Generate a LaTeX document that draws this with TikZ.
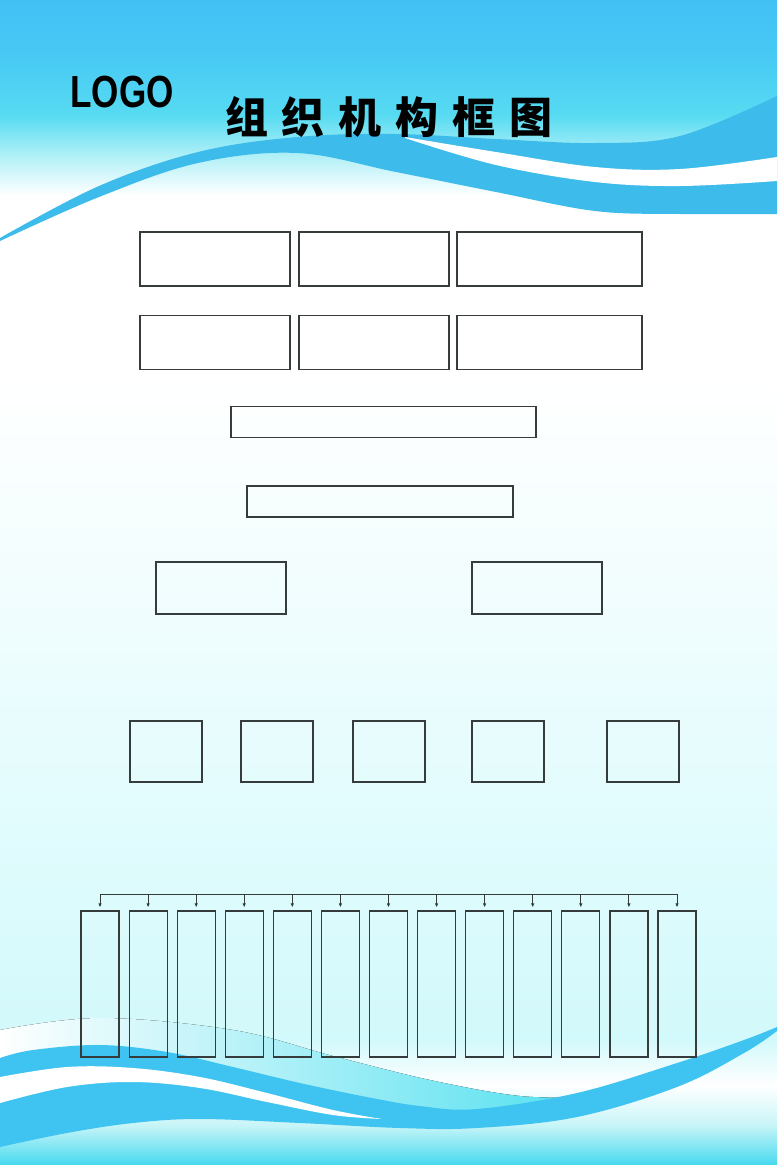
\documentclass[tikz,border=0pt]{standalone}
\usepackage{fontspec}
\usepackage{tikz}
\usepackage{xcolor}
\newfontfamily\cjk{Noto Sans CJK SC}
\newfontfamily\logofont{Liberation Sans}
\usetikzlibrary{arrows.meta}

\definecolor{boxline}{HTML}{363B3C}
\definecolor{skyA}{HTML}{42C1F5}
\definecolor{skyB}{HTML}{47C9F4}
\definecolor{skyC}{HTML}{57DBF2}
\definecolor{skyD}{HTML}{AFF0F7}
\definecolor{paleA}{HTML}{F1FDFE}
\definecolor{paleB}{HTML}{E3FCFD}
\definecolor{paleC}{HTML}{D2F9FB}
\definecolor{paleD}{HTML}{C8F5F8}
\definecolor{seaC}{HTML}{46D9EE}
\definecolor{waveC}{HTML}{52E0EF}
\definecolor{bandtop}{HTML}{3DBBEA}
\definecolor{bandlow}{HTML}{3FC4F1}

\begin{document}
\begin{tikzpicture}[x=1pt,y=-1pt,
  frame/.style={draw=boxline,line width=1.2pt,inner sep=0pt,minimum width=#1},
  wide/.style={frame=150,minimum height=54},
  bar/.style={frame=#1,minimum height=31},
  unit/.style={frame=72,minimum height=61},
  column/.style={frame=38,minimum height=146},
  feed/.style={draw=boxline,line width=0.9pt,-{Latex[length=4pt,width=3.5pt]},shorten >=3pt}]
\useasboundingbox (0,0) rectangle (777,1165);
% background
\fill[top color=skyA,bottom color=skyB] (0,0) rectangle (777,55.5);
\fill[top color=skyB,bottom color=skyC] (0,55) rectangle (777,115.5);
\fill[top color=skyC,bottom color=skyD] (0,115) rectangle (777,155.5);
\fill[top color=skyD,bottom color=white] (0,155) rectangle (777,195.5);
\fill[white] (0,195) rectangle (777,380.5);
\fill[top color=white,bottom color=paleA] (0,380) rectangle (777,600.5);
\fill[top color=paleA,bottom color=paleB] (0,600) rectangle (777,800.5);
\fill[top color=paleB,bottom color=paleC] (0,800) rectangle (777,1040.5);
\fill[top color=paleC,bottom color=white] (0,1040) rectangle (777,1085.5);
\fill[top color=white,bottom color=paleD] (0,1085) rectangle (777,1125.5);
\fill[top color=paleD,bottom color=seaC] (0,1125) rectangle (777,1165);
% top wave
\fill[bandtop] plot[smooth,tension=0.6] coordinates {(0,238) (99,186) (198,152) (297,137) (396,134) (496,139) (595,143) (680,136) (777,96)}
  -- plot[smooth,tension=0.6] coordinates {(777,214) (680,214) (595,211) (496,192) (396,172) (297,153) (198,163) (99,197) (0,241)} -- cycle;
\fill[white] plot[smooth,tension=0.6] coordinates {(405,137) (496,152) (595,167) (680,169) (777,157)}
  -- plot[smooth,tension=0.6] coordinates {(777,181) (680,186) (595,182) (496,165) (405,138)} -- cycle;
% bottom waves
\fill[left color=white,right color=waveC] plot[smooth,tension=0.6] coordinates {(0,1030) (100,1018) (233,1030) (333,1056) (430,1080) (520,1096) (590,1097)}
  -- plot[smooth,tension=0.6] coordinates {(590,1108) (400,1112) (200,1075) (0,1066)} -- cycle;
\fill[bandlow] plot[smooth,tension=0.6] coordinates {(0,1058) (33,1050) (100,1045) (167,1052) (233,1067) (300,1083) (367,1097) (420,1106) (477,1109) (577,1093) (677,1063) (744,1040) (777,1027)}
  -- plot[smooth,tension=0.6] coordinates {(777,1031) (744,1053) (677,1087) (577,1117) (477,1128) (400,1128) (300,1123) (200,1119) (133,1123) (67,1133) (0,1147)} -- cycle;
\fill[white] plot[smooth,tension=0.6] coordinates {(382,1119) (333,1110) (267,1093) (200,1077) (133,1068) (67,1067) (0,1077)}
  -- plot[smooth,tension=0.6] coordinates {(0,1103) (67,1087) (133,1082) (200,1088) (267,1102) (333,1115) (382,1119)} -- cycle;
% titles
\node[xscale=0.78] (logo) at (122,92) {\fontsize{45}{45}\selectfont\logofont\bfseries LOGO};
\node (title) at (389,117) {\fontsize{43}{43}\selectfont\cjk\bfseries 组\hskip14pt 织\hskip14pt 机\hskip14pt 构\hskip14pt 框\hskip14pt 图};
% boxes
\node[wide] (lead1) at (215,259) {};
\node[wide] (lead2) at (374,259) {};
\node[wide,minimum width=185] (lead3) at (549.5,259) {};
\node[wide] (vice1) at (215,342.5) {};
\node[wide] (vice2) at (374,342.5) {};
\node[wide,minimum width=185] (vice3) at (549.5,342.5) {};
\node[bar=305] (board) at (383.5,422) {};
\node[bar=266] (office) at (380,501.5) {};
\node[frame=130,minimum height=52] (branch1) at (221,588) {};
\node[frame=130,minimum height=52] (branch2) at (537,588) {};
\node[unit] (dept1) at (166,751.5) {};
\node[unit] (dept2) at (277,751.5) {};
\node[unit] (dept3) at (389,751.5) {};
\node[unit] (dept4) at (508,751.5) {};
\node[unit] (dept5) at (643,751.5) {};
\node[column] (team1) at (100,984) {};
\node[column] (team2) at (148.1,984) {};
\node[column] (team3) at (196.2,984) {};
\node[column] (team4) at (244.2,984) {};
\node[column] (team5) at (292.3,984) {};
\node[column] (team6) at (340.4,984) {};
\node[column] (team7) at (388.5,984) {};
\node[column] (team8) at (436.6,984) {};
\node[column] (team9) at (484.6,984) {};
\node[column] (team10) at (532.7,984) {};
\node[column] (team11) at (580.8,984) {};
\node[column] (team12) at (628.9,984) {};
\node[column] (team13) at (677,984) {};
% bus
\coordinate (tap1) at (100,894);
\coordinate (tap2) at (148.1,894);
\coordinate (tap3) at (196.2,894);
\coordinate (tap4) at (244.2,894);
\coordinate (tap5) at (292.3,894);
\coordinate (tap6) at (340.4,894);
\coordinate (tap7) at (388.5,894);
\coordinate (tap8) at (436.6,894);
\coordinate (tap9) at (484.6,894);
\coordinate (tap10) at (532.7,894);
\coordinate (tap11) at (580.8,894);
\coordinate (tap12) at (628.9,894);
\coordinate (tap13) at (677,894);
\draw[boxline,line width=0.9pt] (tap1) -- (tap13);
\draw[feed] (tap1) -- (team1);
\draw[feed] (tap2) -- (team2);
\draw[feed] (tap3) -- (team3);
\draw[feed] (tap4) -- (team4);
\draw[feed] (tap5) -- (team5);
\draw[feed] (tap6) -- (team6);
\draw[feed] (tap7) -- (team7);
\draw[feed] (tap8) -- (team8);
\draw[feed] (tap9) -- (team9);
\draw[feed] (tap10) -- (team10);
\draw[feed] (tap11) -- (team11);
\draw[feed] (tap12) -- (team12);
\draw[feed] (tap13) -- (team13);
\end{tikzpicture}
\end{document}
